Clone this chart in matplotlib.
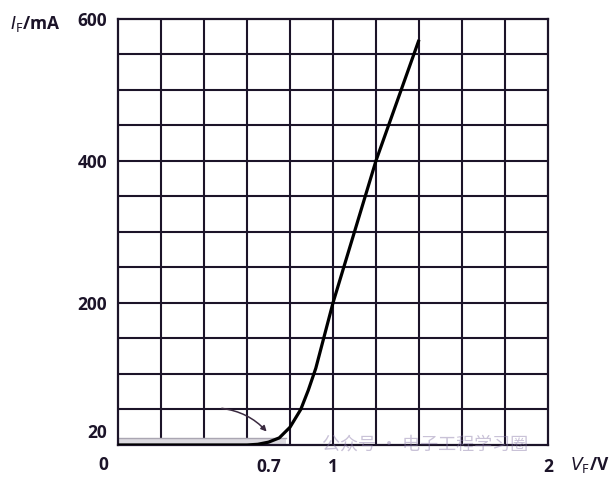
import matplotlib
matplotlib.use("Agg")
import matplotlib.pyplot as plt
import numpy as np

# Data
voltage = [0.0, 0.6, 0.65, 0.7, 0.75, 0.8, 0.85, 0.885, 0.92, 1.0, 1.2, 1.4]
current = [0.0, 0.0, 1.0, 4.0, 10.0, 25.0, 50.0, 77.0, 108.0, 200.0, 400.0, 570.0]
xtick_vals = [0.7, 1, 2]
xtick_labels = ["0.7", "1", "2"]
ytick_vals = [20, 200, 400, 600]
ytick_labels = ["20", "200", "400", "600"]

ink = "#1c1429"
W, H = 614, 482
fig = plt.figure(figsize=(W / 100, H / 100), dpi=100)
ax = fig.add_axes([118 / W, 1 - 445 / H, (548 - 118) / W, (445 - 18.5) / H])
ax.set_xlim(0, 2)
ax.set_ylim(0, 600)

# grid
for xv in np.arange(0.2, 2.0, 0.2):
    ax.axvline(xv, color=ink, lw=1.5, zorder=1)
for yv in np.arange(50, 600, 50):
    ax.axhline(yv, color=ink, lw=1.5, zorder=1)
for s in ax.spines.values():
    s.set_color(ink)
    s.set_linewidth(1.6)

# shadow band near the bottom
ax.fill_between([0, 0.78], 0, 10, color="#dcdae0", zorder=1.5, lw=0)
ax.plot([0, 0.78], [10, 10], color="#aaa6b2", lw=1.0, zorder=1.6)

# curve
ax.plot(voltage, current, color="black", lw=2.3, zorder=3,
        solid_capstyle="butt", solid_joinstyle="round")

# arrow pointing at knee
ax.annotate("", xy=(0.70, 16), xytext=(0.47, 52),
            arrowprops=dict(arrowstyle="-|>", color="#3a2a40", lw=1.1,
                            connectionstyle="arc3,rad=-0.2", mutation_scale=8),
            zorder=4)

ax.set_xticks(xtick_vals)
ax.set_xticklabels(xtick_labels)
ax.set_yticks(ytick_vals)
ax.set_yticklabels(ytick_labels)
ax.tick_params(axis="both", length=0, labelsize=12.5, labelcolor=ink)
ax.tick_params(axis="y", pad=8)
ax.tick_params(axis="x", pad=9)
for lab in ax.get_xticklabels() + ax.get_yticklabels():
    lab.set_fontweight("bold")
    lab.set_family("Open Sans")

fig.text(103 / W, 1 - 465 / H, "0", ha="center", va="center", fontsize=12.5,
         color=ink, fontweight="bold", family="Open Sans")
fig.text(10 / W, 1 - 24 / H, r"$I_{\rm F}$/mA", ha="left", va="center",
         fontsize=12.5, color=ink, fontweight="bold", family="Open Sans")
fig.text(570 / W, 1 - 465 / H, r"$V_{\rm F}$/V", ha="left", va="center",
         fontsize=12.5, color=ink, fontweight="bold", family="Open Sans")

# watermark
fig.text(322 / W, 1 - 445 / H, "公众号 · 电子工程学习圈", ha="left", va="center",
         fontsize=13, color="#8878a8", alpha=0.45,
         family=["Noto Sans CJK SC", "DejaVu Sans"])

fig.savefig("out.png", dpi=100)
